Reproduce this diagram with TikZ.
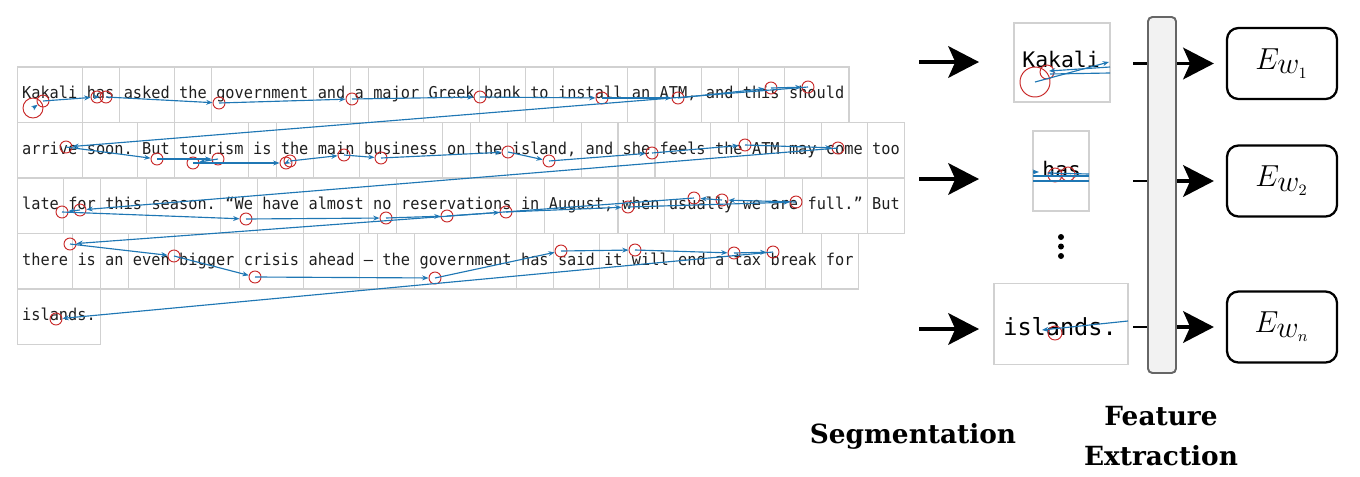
\documentclass[tikz,border=0pt]{standalone}
\usepackage{fontspec}
\usepackage{xstring}
\usetikzlibrary{arrows.meta, positioning, calc}
\newfontfamily\gazefont[FakeStretch=0.935]{DejaVu Sans Mono}
\newfontfamily\cropfont{DejaVu Sans Mono}
\newfontfamily\labelfont{DejaVu Serif}

\definecolor{gridgray}{gray}{0.82}
\definecolor{fixred}{RGB}{200,40,40}
\definecolor{sacblue}{RGB}{31,119,180}
\definecolor{fegray}{gray}{0.95}

\begin{document}
\begin{tikzpicture}[
    x=0.02cm, y=-0.02cm,
    every node/.style={inner sep=0pt},
    cell/.style={draw=gridgray, line width=0.6pt, anchor=west,
      minimum height=55.5*0.02cm, text=black!88,
      font=\gazefont\fontsize{9.3}{10}\selectfont,
      text height=6.3pt, text depth=1.5pt},
    fixation/.style={circle, draw=fixred, line width=0.55pt},
    saccade/.style={sacblue, line width=0.65pt,
      -{Stealth[length=3.6pt, width=2.8pt]}},
    sacline/.style={sacblue, line width=0.65pt},
    crop/.style={draw=gridgray, line width=0.6pt},
    cropword/.style={anchor=base west, font=\cropfont\fontsize{#1}{14}\selectfont},
    bigarrow/.style={line width=1.9pt, -{Stealth[length=17.5pt, width=18pt, inset=4pt]}},
    stub/.style={line width=1.2pt},
    extractor/.style={draw=black!60, fill=fegray, line width=1.1pt, rounded corners=2.5pt,
      minimum width=28*0.02cm, minimum height=356*0.02cm},
    outbox/.style={draw, line width=1.3pt, rounded corners=6.5pt,
      minimum width=110*0.02cm, minimum height=71*0.02cm,
      font=\fontsize{17.5}{22}\selectfont},
    caption/.style={anchor=base, font=\labelfont\bfseries\fontsize{15}{18}\selectfont},
  ]
  \useasboundingbox (0,0) rectangle (1360,477);
  \def\cw{9.24}
  \def\xo{21.5}
  \def\rowh{55.5}

  % reading grid, one cell per word
  \foreach \row/\words in {
    0/{Kakali,has,asked,the,government,and,a,major,Greek,bank,to,install,an,{ATM,},and,this,should},
    1/{arrive,soon.,But,tourism,is,the,main,business,on,the,{island,},and,she,feels,the,ATM,may,come,too},
    2/{late,for,this,season.,“We,have,almost,no,reservations,in,{August,},when,usually,we,are,full.”,But},
    3/{there,is,an,even,bigger,crisis,ahead,–,the,government,has,said,it,will,end,a,tax,break,for},
    4/{islands.}%
  }{
    \xdef\chpos{0}
    \foreach \w [count=\k] in \words {
      \StrLen{\w}[\wlen]
      \node[cell, minimum width={(\wlen+1)*\cw*0.02cm}] (w\row-\k)
        at ({\xo+(\chpos-0.5)*\cw}, {94.75+\row*\rowh}) {\w};
      \pgfmathtruncatemacro\nextpos{\chpos+\wlen+1}
      \xdef\chpos{\nextpos}
    }
  }

  % fixations
  \foreach \x/\y/\rad [count=\k] in {
    33/108/10, 43/101/6, 97/97/6, 106/97/6, 219/103/6, 352/99/6, 480/97/6,
    602/98/6, 678/98/6, 771/88/6, 808/87/6,
    66/147/6, 157/159/6, 218/159/6, 193/163/6, 286/163/6, 290/161/6, 344/155/6,
    381/158/6, 508/152/6, 549/161/6, 652/153/6, 745/145/6, 838/148/6,
    80/210/6, 62/212/6, 246/219/6, 386/218/6, 447/216/6, 506/212/6, 628/207/6,
    796/202/6, 722/200/6, 694/198/6,
    70/244/6, 174/256/6, 255/277/6, 435/278/6, 561/251/6, 635/250/6, 734/253/6,
    773/252/6,
    56/319/6%
  }{
    \node[fixation, minimum size={2*\rad*0.02cm}] (f\k) at (\x,\y) {};
  }

  % saccades
  \foreach \k [remember=\k as \pk (initially 1)] in {2,...,43}
    \draw[saccade] (f\pk.center) -- (f\k);

  % segmented words
  \node[crop, minimum width=96*0.02cm, minimum height=79*0.02cm] (seg1) at (1062,62.5) {};
  \node[cropword=12.2] (word1) at (1022,67) {Kakali};
  \node[fixation, minimum size=30*0.02cm] (c1) at (1035,82) {};
  \node[fixation, minimum size=14*0.02cm] (c2) at (1047,72) {};
  \draw[saccade] (c1.center) -- (1109,62);
  \draw[saccade] (1110,67) -- (1049,71);
  \draw[sacline] (1050,74) -- (1110,73);

  \node[crop, minimum width=56*0.02cm, minimum height=80*0.02cm] (seg2) at (1061,171) {};
  \node[cropword=12.2] (word2) at (1042,177) {has};
  \node[fixation, minimum size=14*0.02cm] (c3) at (1055,175) {};
  \node[fixation, minimum size=14*0.02cm] (c4) at (1068,174) {};
  \draw[sacline] (1033,176) -- (1089,176);
  \draw[sacline] (1033,181) -- (1089,181);
  \draw[saccade] (1089,174) -- (1047,173);
  \draw[saccade] (1033,172) -- (1039,172);

  % vertical dots
  \foreach \d in {237,246.5,256}
    \fill (1061,\d) circle[radius=3];

  \node[crop, minimum width=134*0.02cm, minimum height=81*0.02cm] (segn) at (1061,324) {};
  \node[cropword=13.4] (wordn) at (1003,335) {islands.};
  \node[fixation, minimum size=14*0.02cm] (c5) at (1055,333) {};
  \draw[saccade] (1128,321) -- (1042,330);

  % segmentation arrows
  \coordinate (in1) at (919,62);
  \coordinate (in2) at (919,179);
  \coordinate (inn) at (919,329);
  \draw[bigarrow] (in1) -- ++(60,0);
  \draw[bigarrow] (in2) -- ++(60,0);
  \draw[bigarrow] (inn) -- ++(60,0);

  % feature extractor
  \node[extractor] (fe) at (1162,195) {};
  \node[outbox] (out1) at (1282,63.5) {$E_{\textstyle w_{\scriptscriptstyle 1}}$};
  \node[outbox] (out2) at (1282,181) {$E_{\textstyle w_{\scriptscriptstyle 2}}$};
  \node[outbox] (outn) at (1282,327) {$E_{\textstyle w_{\scriptscriptstyle n}}$};

  \foreach \o in {1,2,n}{
    \coordinate (s\o) at (1133,0 |- out\o);
    \draw[stub] (s\o) -- (s\o -| fe.west);
    \draw[bigarrow, shorten >=6.8pt] (fe.east |- out\o) -- (out\o);
  }

  \node[caption] (seglabel) at (913,443) {Segmentation};
  \node[caption] (felabel) at (1161,425) {Feature};
  \node[caption] (felabel2) at (1161,465) {Extraction};
\end{tikzpicture}
\end{document}
